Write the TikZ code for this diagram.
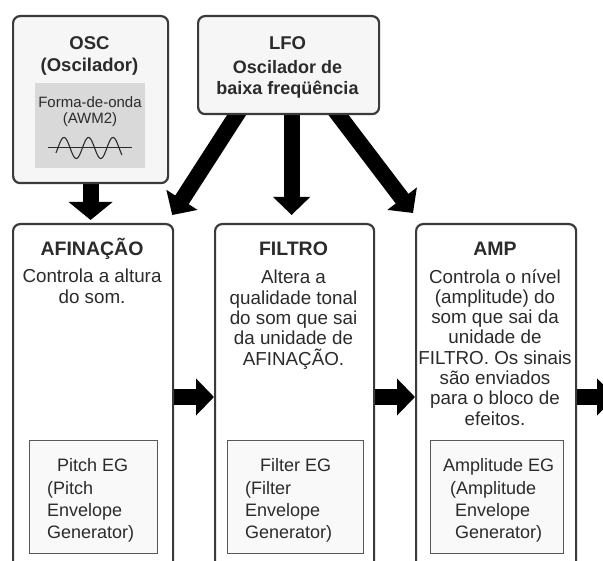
\documentclass[tikz,border=0pt]{standalone}
\usepackage{fontspec}
\setmainfont{Liberation Sans}
\usetikzlibrary{arrows.meta,calc}
\pgfdeclarelayer{background}
\pgfsetlayers{background,main}
\definecolor{ink}{HTML}{2B2B2B}
\definecolor{edge}{HTML}{3A3A3A}
\definecolor{panel}{HTML}{F6F6F6}
\definecolor{wavefill}{HTML}{D9D9D9}

\tikzset{
  blockbox/.style={draw=edge, line width=2.2pt, rounded corners=7pt, fill=#1,
    inner sep=0pt, anchor=north west},
  blockbox/.default=white,
  egbox/.style={draw=edge!85, line width=1pt, fill=panel!70, inner sep=0pt, anchor=north west},
  wavebox/.style={fill=wavefill, inner sep=0pt, anchor=north west},
  title/.style={font=\bfseries\fontsize{19.5}{22}\selectfont, text=ink, inner sep=0pt, anchor=base},
  toptitle/.style={font=\bfseries\fontsize{18.5}{22}\selectfont, text=ink, inner sep=0pt,
    align=center, anchor=north},
  body/.style={font=\fontsize{18.8}{20.3}\selectfont, text=ink, inner sep=0pt,
    align=center, anchor=north},
  small/.style={font=\fontsize{15}{16}\selectfont, text=ink, inner sep=0pt,
    align=center, anchor=north},
  egtext/.style={font=\fontsize{18}{22.3}\selectfont, text=ink, inner sep=0pt,
    align=left, anchor=north west},
  flow/.style={line width=16pt, -{Triangle[width=36pt,length=18pt]}},
  flowwide/.style={line width=16pt, -{Triangle[width=43pt,length=18pt]}},
}

\begin{document}
\begin{tikzpicture}[x=1pt,y=-1pt]
\useasboundingbox (0,0) rectangle (603,561);

% ---- sources: oscillator and LFO ----
\node[blockbox=panel, minimum width=155, minimum height=167] (osc) at (12,15) {};
\node[toptitle] (osct) at (89.5,36) {OSC\\(Oscilador)};
\node[wavebox, minimum width=110, minimum height=85] (wave) at (35,83) {};
\node[small] (wavet) at (90,96) {Forma-de-onda\\(AWM2)};
\draw[ink, line width=1pt] (48,148) -- (132,148);
\draw[ink, line width=1.1pt] plot[domain=56:122, samples=90, smooth]
  (\x, {148 - 10.5*cos(14.6939*(\x-64))});

\node[blockbox=panel, minimum width=181, minimum height=98] (lfo) at (197,15) {};
\node[font=\bfseries\fontsize{18.5}{22}\selectfont, text=ink, inner sep=0pt, anchor=base]
  (lfot) at (287.5,50) {LFO};
\node[toptitle, font=\bfseries\fontsize{18}{21.6}\selectfont] (lfob) at (287.5,60)
  {Oscilador de\\baixa freqüência};

% ---- processing blocks (open towards the bottom) ----
\node[blockbox, minimum width=160, minimum height=360] (afin) at (12,223) {};
\node[blockbox, minimum width=159, minimum height=360] (filtro) at (214,223) {};
\node[blockbox, minimum width=160, minimum height=360] (amp) at (415,223) {};

\node[title] (afint) at (92,256) {AFINAÇÃO};
\node[title] (filtrot) at (293.5,256) {FILTRO};
\node[title] (ampt) at (495,256) {AMP};

\node[body] (afinb) at (92,269) {Controla a altura\\do som.};
\node[body] (filtrob) at (293.5,270)
  {Altera a\\qualidade tonal\\do som que sai\\da unidade de\\AFINAÇÃO.};
\node[body] (ampb) at (495,269)
  {Controla o nível\\(amplitude) do\\som que sai da\\unidade de\\FILTRO. Os sinais\\são enviados\\para o bloco de\\efeitos.};

% ---- envelope generators ----
\node[egbox, minimum width=128, minimum height=113] (afineg) at (29,440) {};
\node[egbox, minimum width=136, minimum height=113] (filtroeg) at (227,440) {};
\node[egbox, minimum width=133, minimum height=113] (ampeg) at (430,440) {};

\node[egtext] (afinegt) at (47,458.5)
  {\hspace*{10pt}Pitch EG\\(Pitch\\Envelope\\Generator)};
\node[egtext] (filtroegt) at (245,458.5)
  {\hspace*{15pt}Filter EG\\(Filter\\Envelope\\Generator)};
\node[egtext] (ampegt) at (443,458.5)
  {Amplitude EG\\\hspace*{7pt}(Amplitude\\\hspace*{12pt}Envelope\\\hspace*{12pt}Generator)};

% ---- signal flow ----
\coordinate (out) at ($(amp.north east)+(38,174)$);
\begin{pgfonlayer}{background}
  \draw[flowwide] ($(osc.south)+(0,-6)$) -- ($(osc.south |- afin.north)+(0,-3)$);
  \draw[flow] ($(lfo.south)+(-47,-8)$) -- ($(afin.north east)+(-2,-8)$);
  \draw[flow] ($(lfo.south)+(3,-8)$) -- ($(lfo.south |- filtro.north)+(3,-8)$);
  \draw[flow] ($(lfo.south)+(44,-8)$) -- ($(amp.north west)+(-2,-10)$);
  \draw[flow] ($(afin.north east)+(-4,174)$) -- ($(filtro.north west)+(0,174)$);
  \draw[flow] ($(filtro.north east)+(-4,174)$) -- ($(amp.north west)+(0,174)$);
  \draw[flow] ($(amp.north east)+(-4,174)$) -- (out);
\end{pgfonlayer}
\end{tikzpicture}
\end{document}
